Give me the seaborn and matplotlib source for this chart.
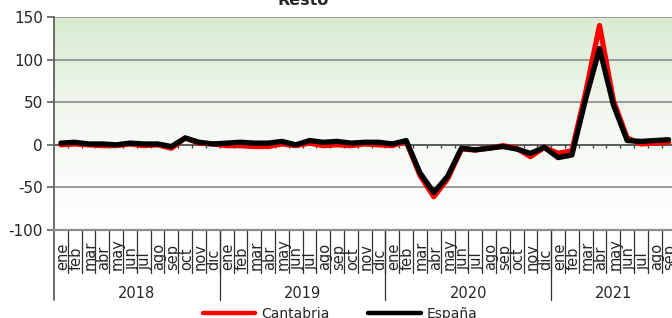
import numpy as np
import pandas as pd
import matplotlib
matplotlib.use("Agg")
import matplotlib.pyplot as plt
import seaborn as sns

# --- Data ---
months = ['ene', 'feb', 'mar', 'abr', 'may', 'jun', 'jul', 'ago', 'sep', 'oct', 'nov', 'dic']
month_labels = months * 3 + months[:9]
years = ['2018', '2019', '2020', '2021']
year_months = [12, 12, 12, 9]

cantabria = [0, 1, 0, -1, -1, 1, -1, 0, -4, 8, 2, 1,
             -1, -1, -2, -2, 1, -1, 2, -1, 0, -1, 1, 0,
             -1, 4, -36, -61, -40, -5, -6, -4, -1, -4, -14, -3,
             -10, -7, 62, 140, 52, 8, 1, 2, 3]
espana = [2, 3, 1, 1, 0, 2, 1, 1, -2, 8, 3, 1,
          2, 3, 2, 2, 4, 0, 5, 3, 4, 2, 3, 3,
          1, 5, -33, -56, -37, -4, -6, -4, -2, -5, -10, -3,
          -15, -12, 54, 113, 47, 5, 4, 5, 6]

df = pd.DataFrame({
    'idx': list(range(len(month_labels))) * 2,
    'valor': cantabria + espana,
    'serie': ['Cantabria'] * len(cantabria) + ['España'] * len(espana),
})

# --- Figure ---
sns.set_theme(style="white")
plt.rcParams['font.family'] = ['DejaVu Sans']
plt.rcParams['axes.unicode_minus'] = False
fig = plt.figure(figsize=(6.72, 3.18), dpi=100)
W, H = 672, 318
ax = fig.add_axes([54 / W, 1 - 230 / H, 621.5 / W, 213 / H])

n = len(month_labels)
ax.set_xlim(-0.5, n - 0.5)
ax.set_ylim(-100, 150)

# gradient background
grad = np.linspace(0, 1, 256).reshape(-1, 1)
cmap = matplotlib.colors.LinearSegmentedColormap.from_list('bg', ['#ffffff', '#f4f9f2', '#d8ebd1'])
ax.imshow(grad, extent=[-0.5, n - 0.5, -100, 150], origin='lower', aspect='auto', cmap=cmap, zorder=0)

for yv in [-50, 50, 100, 150]:
    ax.axhline(yv, color='#8c8c8c', lw=1.2, zorder=1)
ax.axhline(0, color='#404040', lw=1.2, zorder=1)
# small ticks on zero line
bounds = np.arange(n + 1) - 0.5
ax.vlines(bounds[1:], -3.5, 0, color='#404040', lw=1, zorder=1)

sns.lineplot(data=df, x='idx', y='valor', hue='serie', palette={'Cantabria': '#ff0000', 'España': '#000000'},
             lw=3.8, ax=ax, legend=False, zorder=3)

ax.set_xlabel('')
ax.set_ylabel('')
ax.set_xticks([])
ax.set_yticks([-100, -50, 0, 50, 100, 150])
ax.tick_params(axis='y', direction='out', length=5, width=1.2, color='#606060', labelsize=11, pad=3,
               left=True, labelcolor='#262626')
for s in ['top', 'right']:
    ax.spines[s].set_visible(False)
ax.spines['bottom'].set_color('#8c8c8c')
ax.spines['bottom'].set_linewidth(1.6)
ax.spines['left'].set_color('#606060')
ax.spines['left'].set_linewidth(1.3)

# category axis (months / years)
trans = ax.get_xaxis_transform()
for b in bounds[1:]:
    ax.plot([b, b], [0, -0.2], transform=trans, color='#303030', lw=0.9, clip_on=False)
ax.plot([-0.5, -0.5], [0, -0.33], transform=trans, color='#606060', lw=1.3, clip_on=False)
start = 0
for yr, nm in zip(years, year_months):
    end = start + nm
    ax.plot([end - 0.5, end - 0.5], [0, -0.33], transform=trans, color='#303030', lw=0.9, clip_on=False)
    ax.text((start + end - 1) / 2, -0.296, yr, transform=trans, ha='center', va='center',
            fontsize=10.5, color='#262626')
    start = end
for i, lab in enumerate(month_labels):
    ax.text(i + 0.1, -0.19, lab, transform=trans, rotation=90, ha='center', va='bottom',
            fontsize=10.5, color='#262626')

fig.text(303 / W, 1 - 5 / H, 'Resto', ha='center', va='baseline', fontsize=11.5, fontweight='bold')

handles = [matplotlib.lines.Line2D([], [], color='#ff0000', lw=3.2),
           matplotlib.lines.Line2D([], [], color='#000000', lw=3.2)]
fig.legend(handles, ['Cantabria', 'España'], loc='center', bbox_to_anchor=(340 / W, 1 - 314 / H), ncol=2,
           frameon=False, fontsize=10, handlelength=3.8, handletextpad=0.4, columnspacing=2.8,
           labelcolor='#262626')

fig.savefig('out.png', dpi=100)
